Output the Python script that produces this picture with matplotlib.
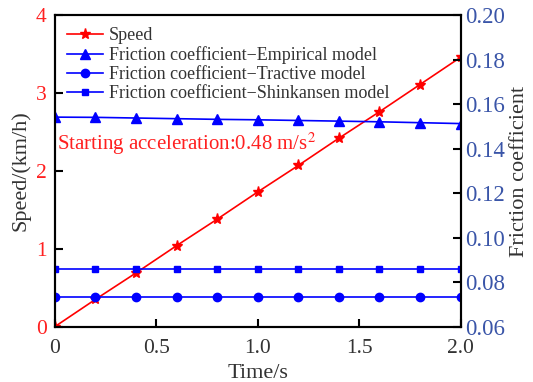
import numpy as np
import matplotlib.pyplot as plt

plt.rcParams['font.family'] = ['Liberation Serif', 'DejaVu Serif']
plt.rcParams['mathtext.fontset'] = 'stix'

# sample times (s)
time = [0.0, 0.2, 0.4, 0.6, 0.8, 1.0, 1.2, 1.4, 1.6, 1.8, 2.0]
# speed (km/h) under 0.48 m/s^2
speed = [0.0, 0.35, 0.69, 1.04, 1.38, 1.73, 2.07, 2.42, 2.76, 3.11, 3.46]
# friction coefficient from the three models
mu_empirical = [0.1542, 0.1541, 0.1538, 0.1535, 0.1532, 0.1530, 0.1527, 0.1524, 0.1521, 0.1517, 0.1513]
mu_tractive = [0.0733] * 11
mu_shinkansen = [0.0858] * 11

fig, ax = plt.subplots(figsize=(5.33, 3.82), dpi=100)
ax2 = ax.twinx()

l1, = ax.plot(time, speed, color='red', marker='*', markersize=8, lw=1.2, label='Speed')
l2, = ax2.plot(time, mu_empirical, color='blue', marker='^', markersize=7, lw=1.2,
               label='Friction coefficient\u2212Empirical model')
l3, = ax2.plot(time, mu_tractive, color='blue', marker='o', markersize=6, lw=1.2,
               label='Friction coefficient\u2212Tractive model')
l4, = ax2.plot(time, mu_shinkansen, color='blue', marker='s', markersize=4.5, lw=1.2,
               label='Friction coefficient\u2212Shinkansen model')

ax.set_xlim(0, 2.0)
ax.set_ylim(0, 4)
ax2.set_ylim(0.06, 0.20)
ax.set_xticks([0, 0.5, 1.0, 1.5, 2.0])
ax.set_xticklabels(['0', '0.5', '1.0', '1.5', '2.0'])
ax.set_yticks([0, 1, 2, 3, 4])
ax2.set_yticks([0.06, 0.08, 0.10, 0.12, 0.14, 0.16, 0.18, 0.20])
ax2.set_yticklabels(['%.2f' % v for v in [0.06, 0.08, 0.10, 0.12, 0.14, 0.16, 0.18, 0.20]])

ax.tick_params(axis='x', direction='in', length=6, width=1.5, labelsize=15.5, labelcolor='#333333',
               top=False, pad=9)
ax.tick_params(axis='y', direction='in', length=6, width=1.5, labelsize=15.5, labelcolor='#ff2020', pad=6)
ax2.tick_params(axis='y', direction='in', length=6, width=1.5, labelsize=16.5, labelcolor='#3a55a8', pad=3)
for a in (ax, ax2):
    for s in a.spines.values():
        s.set_linewidth(1.5)

ax.set_xlabel('Time/s', fontsize=16, color='#333333', labelpad=4)
ax.set_ylabel('Speed/(km/h)', fontsize=16, color='#333333', labelpad=4)
ax2.set_ylabel('Friction coefficient', fontsize=16, color='#333333', labelpad=4)

ax.text(0.01, 2.27, 'Starting acceleration:0.48 m/s$^2$', color='#ff2020', fontsize=15)

ax.legend(handles=[l1, l2, l3, l4], loc='upper left', frameon=False, fontsize=13,
          handlelength=2.0, labelspacing=0.12, borderaxespad=0.25, handletextpad=0.35,
          labelcolor='#333333', bbox_to_anchor=(0.0, 1.0))

fig.subplots_adjust(left=0.103, right=0.864, top=0.96, bottom=0.145)
fig.savefig('out.png', dpi=100)
